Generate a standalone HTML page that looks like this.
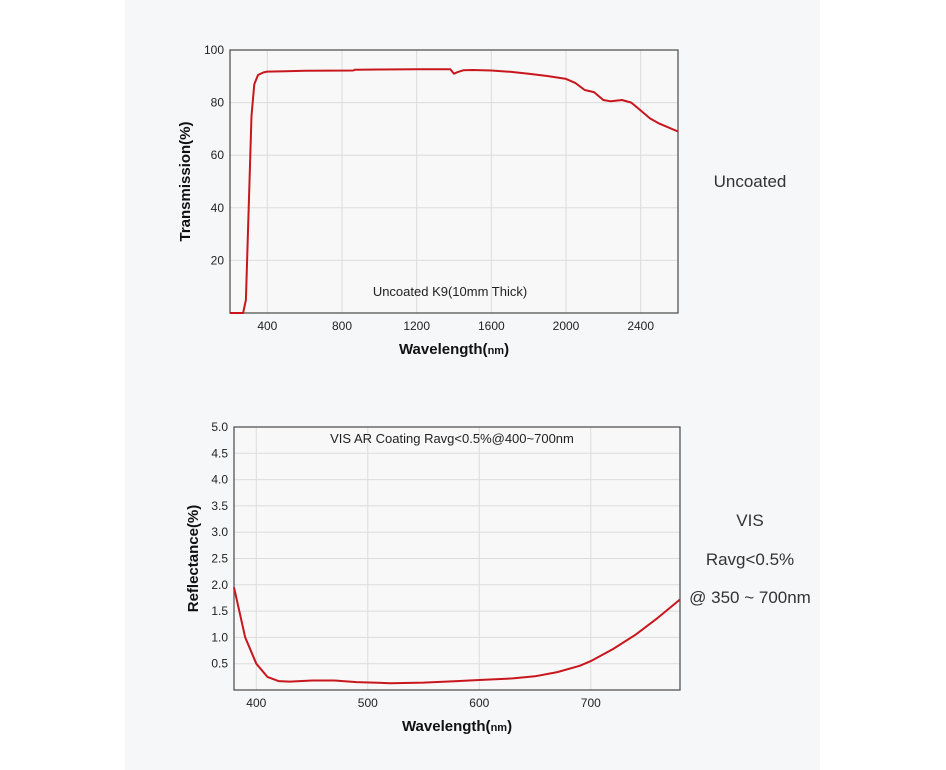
<!DOCTYPE html>
<html><head><meta charset="utf-8">
<style>
html,body{margin:0;padding:0;background:#fff;}
body{width:946px;height:770px;position:relative;overflow:hidden;font-family:"Liberation Sans",sans-serif;}
#panel{position:absolute;left:125px;top:0;width:695px;height:770px;background:#f6f7f9;}
.side{position:absolute;width:140px;left:680px;text-align:center;font-size:17px;color:#333;}
</style></head>
<body>
<div id="panel"></div>
<svg id="chart" width="946" height="770" style="position:absolute;left:0;top:0"></svg>
<div class="side" style="top:172px">Uncoated</div>
<div class="side" style="top:511px">VIS</div>
<div class="side" style="top:550px">Ravg&lt;0.5%</div>
<div class="side" style="top:588px">@ 350 ~ 700nm</div>
<script>
const tWl = [200,270,285,300,315,330,350,380,400,500,600,860,870,1000,1200,1380,1400,1420,1450,1500,1600,1700,1800,1900,2000,2050,2100,2150,2200,2240,2300,2350,2400,2450,2500,2600];
const tVal = [0,0,5,40,75,87,90.5,91.5,91.8,91.9,92.1,92.2,92.5,92.6,92.7,92.7,91.0,91.6,92.3,92.4,92.2,91.7,91.0,90.1,89,87.5,84.8,84.0,81,80.5,81,80,77,74,72,69];
const tXTicks = [400,800,1200,1600,2000,2400];
const tYTicks = [20,40,60,80,100];
const rWl = [380,390,400,410,420,430,450,470,490,520,550,580,600,630,650,670,690,700,720,740,760,780];
const rVal = [1.95,1.0,0.5,0.25,0.17,0.16,0.18,0.18,0.15,0.13,0.14,0.17,0.19,0.22,0.26,0.34,0.46,0.55,0.78,1.05,1.37,1.72];
const rXTicks = [400,500,600,700];
const rYTicks = ['0.5','1.0','1.5','2.0','2.5','3.0','3.5','4.0','4.5','5.0'];

const NS='http://www.w3.org/2000/svg';
const svg=document.getElementById('chart');
function mk(tag,attrs,parent){const e=document.createElementNS(NS,tag);for(const k in attrs)e.setAttribute(k,attrs[k]);(parent||svg).appendChild(e);return e;}

function drawChart(o){
  const g=mk('g',{});
  
  
  const sx=v=>o.x0+(v-o.xmin)/(o.xmax-o.xmin)*(o.x1-o.x0);
  const sy=v=>o.y1-(v-o.ymin)/(o.ymax-o.ymin)*(o.y1-o.y0);
  const bg=mk('rect',{x:o.x0,y:o.y0,width:o.x1-o.x0,height:o.y1-o.y0,fill:'#f8f8f9'},g);
  
  
  o.xt.forEach(t=>{
    const gl=mk('line',{x1:sx(t),x2:sx(t),y1:o.y0,y2:o.y1,stroke:'#dcdcdc','stroke-width':1},g);
    
    
    const tl=mk('text',{x:sx(t),y:o.y1+17,'font-size':12,'text-anchor':'middle',fill:'#222'},g);
    tl.textContent=t;
    
    
  });
  o.yt.forEach(t=>{
    const v=parseFloat(t);
    if(v<o.ymax){
      const gl=mk('line',{x1:o.x0,x2:o.x1,y1:sy(v),y2:sy(v),stroke:'#dcdcdc','stroke-width':1},g);
      
      
    }
    const tl=mk('text',{x:o.x0-6,y:sy(v)+4,'font-size':12,'text-anchor':'end',fill:'#222'},g);
    tl.textContent=t;
    
    
  });
  const fr=mk('rect',{x:o.x0,y:o.y0,width:o.x1-o.x0,height:o.y1-o.y0,fill:'none',stroke:'#555','stroke-width':1.3},g);
  
  
  const pts=o.xs.map((x,i)=>sx(x).toFixed(1)+','+sy(o.ys[i]).toFixed(1)).join(' ');
  const ln=mk('polyline',{points:pts,fill:'none',stroke:'#c8161d','stroke-width':2,'stroke-linejoin':'round'},g);
  
  
  const xt=mk('text',{x:(o.x0+o.x1)/2,y:o.y1+41,'font-size':15,'font-weight':'bold','text-anchor':'middle',fill:'#111'},g);
  xt.innerHTML='Wavelength(<tspan font-size="11">nm</tspan>)';
  
  
  const yt=mk('text',{x:0,y:0,'font-size':15,'font-weight':'bold','text-anchor':'middle',fill:'#111',transform:`translate(${o.ytx},${(o.y0+o.y1)/2}) rotate(-90)`},g);
  yt.textContent=o.ytitle;
  
  
  const an=mk('text',{x:o.annX,y:o.annY,'font-size':13,'text-anchor':'middle',fill:'#222'},g);
  an.textContent=o.ann;
  
  
}

drawChart({name:'transmission-chart',lineName:'transmission-line',x0:230,x1:678,y0:50,y1:313,xmin:200,xmax:2600,ymin:0,ymax:100,
  xs:tWl,ys:tVal,xt:tXTicks,yt:tYTicks,ytitle:'Transmission(%)',ytx:190,ann:'Uncoated K9(10mm Thick)',annX:450,annY:296});
drawChart({name:'reflectance-chart',lineName:'reflectance-line',x0:234,x1:680,y0:427,y1:690,xmin:380,xmax:780,ymin:0,ymax:5,
  xs:rWl,ys:rVal,xt:rXTicks,yt:rYTicks,ytitle:'Reflectance(%)',ytx:198,ann:'VIS AR Coating Ravg<0.5%@400~700nm',annX:452,annY:443});
</script>
</body></html>
